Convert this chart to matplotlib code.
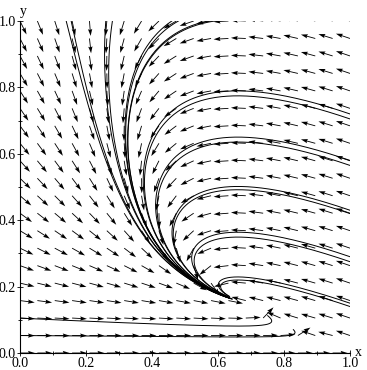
import numpy as np
import matplotlib
matplotlib.use("Agg")
import matplotlib.pyplot as plt
from matplotlib.ticker import MultipleLocator

# x' = mu*(1-x) - beta*x*y ,  y' = (beta*x - gamma - mu)*y * y^2/(y^2 + k*(1-x))
beta = 1.0
mu = 0.31
gamma = 0.35
k = 0.04
t_end = 13.0

# start points of the solution curves
top_x = [0.14, 0.155, 0.26, 0.28, 0.46, 0.48, 0.57, 0.59]
right_y = [0.72, 0.705, 0.58, 0.565, 0.43, 0.42, 0.29, 0.275, 0.15, 0.14]
left_y = [0.0526, 0.105]

n_grid = 20
arrow_len = 0.045

tick_vals = [0.0, 0.2, 0.4, 0.6, 0.8, 1.0]
tick_labels = ["0.0", "0.2", "0.4", "0.6", "0.8", "1.0"]


def rhs(x, y):
    dx = mu * (1 - x) - beta * x * y
    w = y * y / (y * y + k * np.clip(1 - x, 0, None) + 1e-12)
    dy = (beta * x - gamma - mu) * y * w
    return dx, dy


def solve(x, y, dt=0.01):
    xs, ys = [x], [y]
    for _ in range(int(t_end / dt)):
        k1 = rhs(x, y)
        k2 = rhs(x + dt / 2 * k1[0], y + dt / 2 * k1[1])
        k3 = rhs(x + dt / 2 * k2[0], y + dt / 2 * k2[1])
        k4 = rhs(x + dt * k3[0], y + dt * k3[1])
        x = x + dt / 6 * (k1[0] + 2 * k2[0] + 2 * k3[0] + k4[0])
        y = y + dt / 6 * (k1[1] + 2 * k2[1] + 2 * k3[1] + k4[1])
        xs.append(x)
        ys.append(y)
    return xs, ys


plt.rcParams['font.family'] = ['Liberation Serif', 'DejaVu Serif']

fig = plt.figure(figsize=(3.67, 3.70), dpi=100)
ax = fig.add_axes([20 / 367, 17 / 370, 330 / 367, 332 / 370])

g = np.linspace(0, 1, n_grid)
X, Y = np.meshgrid(g, g)
U, V = rhs(X, Y)
M = np.hypot(U, V)
ok = M > 1e-9
U = np.where(ok, U / np.where(ok, M, 1), 0)
V = np.where(ok, V / np.where(ok, M, 1), 0)
ax.quiver(X, Y, U * arrow_len, V * arrow_len, angles='xy', scale_units='xy', scale=1,
          pivot='tail', color='black', width=0.0026, headwidth=5, headlength=8,
          headaxislength=7, zorder=3)

starts = [(x, 1.0) for x in top_x] + [(1.0, y) for y in right_y] + [(0.0, y) for y in left_y]
for x0, y0 in starts:
    xs, ys = solve(x0, y0)
    ax.plot(xs, ys, color='black', lw=0.7, zorder=2)

ax.set_xlim(0, 1)
ax.set_ylim(0, 1)
for side in ['top', 'right']:
    ax.spines[side].set_visible(False)
ax.spines['left'].set_linewidth(0.8)
ax.spines['bottom'].set_linewidth(0.8)
ax.set_xticks(tick_vals)
ax.set_xticklabels(tick_labels)
ax.set_yticks(tick_vals)
ax.set_yticklabels(tick_labels)
ax.xaxis.set_minor_locator(MultipleLocator(0.1))
ax.yaxis.set_minor_locator(MultipleLocator(0.1))
ax.tick_params(which='both', direction='inout', length=4, width=0.6, labelsize=10, pad=1)
ax.tick_params(which='minor', length=3)
ax.text(1.015, 0.0, "x", fontsize=10, ha='left', va='center', clip_on=False)
ax.text(0.0, 1.01, "y", fontsize=10, ha='left', va='bottom', clip_on=False)

fig.savefig("out.png", dpi=100)
